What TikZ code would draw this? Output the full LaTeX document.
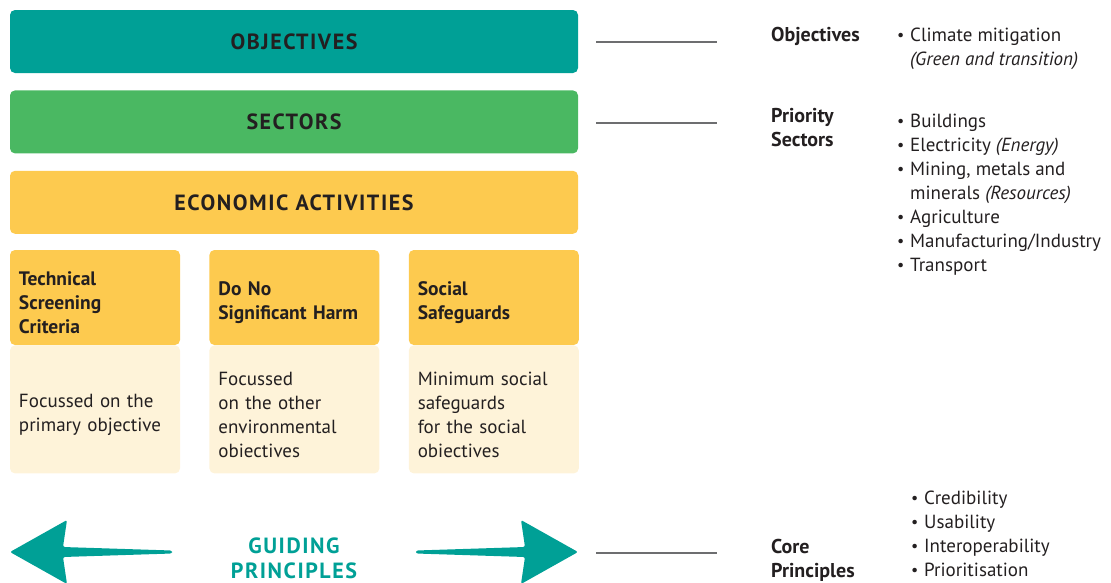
\documentclass[tikz,border=0pt]{standalone}
\usepackage{fontspec}
\setmainfont{PT Sans}
\usepackage{xcolor}
\usetikzlibrary{positioning}
\usetikzlibrary{calc}
\definecolor{ink}{HTML}{231F20}
\definecolor{tealbox}{HTML}{00A096}
\definecolor{greenbox}{HTML}{4AB862}
\definecolor{yellowbox}{HTML}{FDCA4F}
\definecolor{paleyellow}{HTML}{FEF3D9}
\definecolor{rulegray}{HTML}{6D6E70}
\newfontfamily\capsfont[LetterSpace=7]{PT Sans}
\tikzset{
  band/.style = {rectangle, rounded corners=5pt, inner sep=0pt,
    minimum width=568pt, minimum height=63pt, text=ink,
    font=\capsfont\fontsize{22}{24}\selectfont\bfseries},% wide layer boxes
  colhead/.style = {rectangle, rounded corners=5pt, fill=yellowbox,
    minimum width=170pt, minimum height=95pt, inner sep=0pt,
    text width=152pt, align=left, text=ink,
    execute at begin node={\rule{0pt}{24pt}},
    font=\fontsize{19.5}{24}\selectfont\bfseries},% column title
  colbody/.style = {colhead, fill=paleyellow, minimum height=128pt,
    font=\fontsize{19}{24}\selectfont},% column text
  lbl/.style = {anchor=base west, align=left, inner sep=0pt, text=ink,
    font=\fontsize{20}{24}\selectfont\bfseries},% right hand labels
  items/.style = {anchor=base west, align=left, inner sep=0pt, text=ink,
    font=\fontsize{19}{24}\selectfont},% bullet lists
  rule/.style = {draw=rulegray, line width=1.4pt}
}
\newcommand{\itm}[1]{\makebox[13pt][l]{\fontsize{16}{24}\selectfont\raisebox{1pt}{\textbullet}}#1}
\newcommand{\cnt}[1]{\hspace*{13pt}#1}

\begin{document}
\begin{tikzpicture}[x=1pt,y=-1pt]
\useasboundingbox (0,0) rectangle (1111,582);

% layers
\node [band, fill=tealbox] (obj) at (294,41.5) {OBJECTIVES};
\node [band, fill=greenbox, below=17pt of obj] (sec) {SECTORS};
\node [band, fill=yellowbox, below=17pt of sec] (eca) {ECONOMIC ACTIVITIES};

% three columns under the activities
\node [colhead] (tsc) at (95,297.5) {Technical\\Screening\\Criteria};
\node [colhead, right=29pt of tsc] (dnsh) {Do No\\Significant Harm};
\node [colhead, right=29pt of dnsh] (ss) {Social\\Safeguards};
\node [colbody, below=0pt of tsc] (tscb) {Focussed on the\\primary objective};
\node [colbody, below=0pt of dnsh] (dnshb) {Focussed\\on the other\\environmental\\obiectives};
\node [colbody, below=0pt of ss] (ssb) {Minimum social\\safeguards\\for the social\\obiectives};

% guiding principles arrows
\fill [tealbox, rounded corners=2pt] (10,552) -- (67,520) -- (63,547)
  -- (172,550.5) -- (172,553.5) -- (63,557) -- (67,584) -- cycle;
\fill [tealbox, rounded corners=2pt] (578,552) -- (521,520) -- (525,547)
  -- (416,550.5) -- (416,553.5) -- (525,557) -- (521,584) -- cycle;
% (base anchor of a multi line node sits on its last line)
\node [text=tealbox, align=center, inner sep=0pt, anchor=base,
  font=\capsfont\fontsize{22}{25}\selectfont\bfseries] (gp) at (294,578) {GUIDING\\PRINCIPLES};

% rules to the right hand side
\coordinate (r1a) at (596,42);  \coordinate (r1b) at (717,42);
\coordinate (r2a) at (596,123); \coordinate (r2b) at (717,123);
\coordinate (r3a) at (596,553); \coordinate (r3b) at (717,553);
\draw [rule] (r1a) -- (r1b);
\draw [rule] (r2a) -- (r2b);
\draw [rule] (r3a) -- (r3b);

% right hand labels and lists
\node [lbl] (lobj) at (771,41) {Objectives};
\node [items] (iobj) at (897,65) {\itm{Climate mitigation}\\\cnt{\textit{(Green and transition)}}};
\node [lbl] (lsec) at (771,146) {Priority\\Sectors};
\node [items] (isec) at (897,271) {\itm{Buildings}\\\itm{Electricity \textit{(Energy)}}\\
  \itm{Mining, metals and}\\\cnt{minerals \textit{(Resources)}}\\\itm{Agriculture}\\
  \itm{Manufacturing/Industry}\\\itm{Transport}};
\node [lbl] (lcp) at (771,577) {Core\\Principles};
\node [items] (icp) at (911,576) {\itm{Credibility}\\\itm{Usability}\\\itm{Interoperability}\\\itm{Prioritisation}};
\end{tikzpicture}
\end{document}
